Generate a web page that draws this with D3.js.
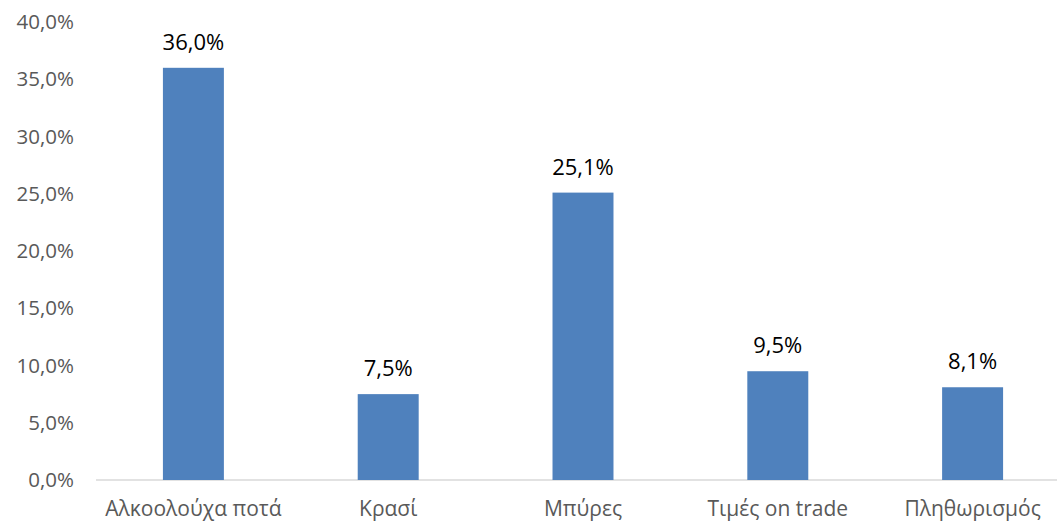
<!DOCTYPE html>
<html>
<head>
<meta charset="utf-8">
<script src="https://cdn.jsdelivr.net/npm/d3@7"></script>
<style>
  body { margin: 0; background: #fff; }
  svg text { font-family: "Open Sans", "Liberation Sans", sans-serif; }
  .axis--y path, .axis--y line { display: none; }
  .axis--x line { display: none; }
  .axis--x path { stroke: #d9d9d9; stroke-width: 1.5; }
</style>
</head>
<body>
<div id="barChart"></div>
<script>
var categories = ["Αλκοολούχα ποτά", "Κρασί", "Μπύρες", "Τιμές on trade", "Πληθωρισμός"];
var values = [36.0, 7.5, 25.1, 9.5, 8.1];
var yTicks = [0, 5, 10, 15, 20, 25, 30, 35, 40];

var chartW = 1057, chartH = 522;
var margin = { left: 96, right: 1070, top: 22, bottom: 480 };

var fmt = function (v) { return v.toFixed(1).replace(".", ",") + "%"; };

var svg = d3.select("#barChart").append("svg")
    .attr("width", chartW)
    .attr("height", chartH);

var x = d3.scaleBand()
    .domain(categories)
    .range([margin.left, margin.right])
    .paddingInner(0.687)
    .paddingOuter(0.687 / 2);

var y = d3.scaleLinear().domain([0, 40]).range([margin.bottom, margin.top]);

// y axis
svg.append("g")
    .attr("class", "axis axis--y")
    .attr("transform", "translate(" + 80 + ",0)")
    .call(d3.axisLeft(y).tickValues(yTicks).tickFormat(fmt).tickSize(0).tickPadding(6))
    .selectAll("text")
    .attr("fill", "#595959")
    .style("font-size", "20.5px");

// x axis
var gx = svg.append("g")
    .attr("class", "axis axis--x")
    .attr("transform", "translate(0," + margin.bottom + ")")
    .call(d3.axisBottom(x).tickSize(0).tickPadding(21).tickSizeOuter(0));
gx.select(".domain").attr("d", "M" + margin.left + ",0H" + chartW);
gx.selectAll("text")
    .attr("fill", "#595959")
    .style("font-size", "21px");

// bars
svg.selectAll(".bar")
    .data(values)
    .enter().append("rect")
    .attr("class", "bar")
    .attr("x", function (d, i) { return x(categories[i]); })
    .attr("y", function (d) { return y(d); })
    .attr("width", x.bandwidth())
    .attr("height", function (d) { return margin.bottom - y(d); })
    .attr("fill", "#4f81bd");

// value labels
svg.selectAll(".label")
    .data(values)
    .enter().append("text")
    .attr("class", "label")
    .attr("x", function (d, i) { return x(categories[i]) + x.bandwidth() / 2; })
    .attr("y", function (d) { return y(d) - 18; })
    .attr("text-anchor", "middle")
    .attr("fill", "#000")
    .style("font-size", "22px")
    .text(fmt);
</script>
</body>
</html>
